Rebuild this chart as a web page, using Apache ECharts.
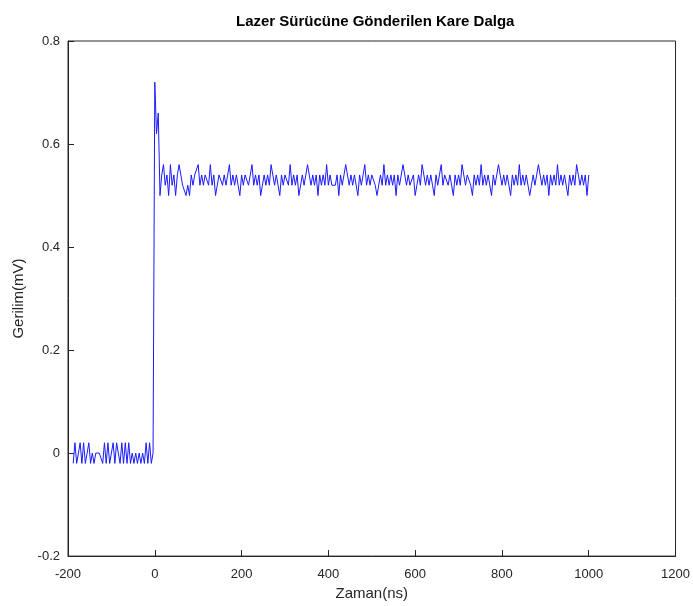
<!DOCTYPE html>
<html>
<head>
<meta charset="utf-8">
<script src="https://cdn.jsdelivr.net/npm/echarts@6/dist/echarts.min.js"></script>
<style>
html,body{margin:0;padding:0;background:#fff;}
#chart{width:693px;height:606px;}
</style>
</head>
<body>
<div id="chart"></div>
<script>
// Chart text
const titleText = 'Lazer Sürücüne Gönderilen Kare Dalga';
const xName = 'Zaman(ns)';
const yName = 'Gerilim(mV)';

// Axis ranges / ticks
const xMin = -200, xMax = 1200, xStep = 200;
const yMin = -0.2, yMax = 0.8, yStep = 0.2;

// Sampling grid (ns)
const startNs = -188;
const stepNs = 4;

// Voltage samples (mV)
const preValues = [
  -0.02,0.02,-0.02,0,0.02,-0.02,0.02,-0.02,0,0.02,
  -0.02,0,-0.02,0,0,0,0,-0.02,0.02,-0.02,
  0.02,-0.02,0,0.02,-0.02,0.02,0,-0.02,0.02,-0.02,
  0.02,-0.02,0.02,-0.02,0,-0.02,0,-0.02,0,-0.02,
  0,-0.02,0.02,-0.02,0.02,-0.02
];
const edgeValues = [0.00, 0.72, 0.62, 0.66];
const postValues = [
  0.50,0.54,0.56,0.52,0.54,0.50,0.56,0.52,0.54,0.50,
  0.54,0.56,0.54,0.52,0.52,0.50,0.52,0.50,0.54,0.52,
  0.54,0.54,0.56,0.52,0.54,0.52,0.54,0.54,0.52,0.56,
  0.52,0.54,0.50,0.52,0.54,0.54,0.52,0.54,0.52,0.54,
  0.56,0.52,0.54,0.52,0.54,0.52,0.50,0.54,0.52,0.54,
  0.54,0.52,0.54,0.56,0.52,0.54,0.52,0.54,0.50,0.52,
  0.54,0.52,0.54,0.52,0.56,0.54,0.52,0.54,0.52,0.50,
  0.54,0.52,0.54,0.54,0.52,0.56,0.52,0.54,0.52,0.54,
  0.50,0.52,0.54,0.52,0.54,0.56,0.54,0.52,0.54,0.52,
  0.54,0.50,0.54,0.52,0.54,0.52,0.56,0.52,0.54,0.52,
  0.52,0.52,0.54,0.50,0.54,0.52,0.54,0.56,0.54,0.52,
  0.54,0.52,0.54,0.52,0.50,0.54,0.52,0.54,0.56,0.52,
  0.54,0.52,0.54,0.54,0.52,0.50,0.52,0.54,0.52,0.56,
  0.52,0.54,0.52,0.54,0.52,0.54,0.50,0.54,0.52,0.54,
  0.56,0.54,0.52,0.54,0.52,0.52,0.54,0.50,0.52,0.54,
  0.52,0.56,0.54,0.52,0.54,0.52,0.54,0.52,0.50,0.54,
  0.52,0.54,0.56,0.52,0.54,0.54,0.52,0.54,0.52,0.50,
  0.54,0.52,0.54,0.52,0.56,0.54,0.52,0.54,0.54,0.52,
  0.50,0.54,0.52,0.54,0.52,0.56,0.52,0.54,0.52,0.54,
  0.52,0.50,0.54,0.52,0.54,0.56,0.54,0.52,0.54,0.52,
  0.54,0.52,0.50,0.54,0.52,0.54,0.52,0.56,0.52,0.54,
  0.52,0.54,0.52,0.50,0.52,0.54,0.52,0.54,0.56,0.54,
  0.52,0.54,0.52,0.54,0.50,0.54,0.52,0.54,0.52,0.56,
  0.52,0.54,0.52,0.54,0.52,0.50,0.54,0.52,0.54,0.52,
  0.56,0.54,0.52,0.54,0.52,0.54,0.50,0.54
];

const voltage = preValues.concat(edgeValues, postValues);
const seriesData = voltage.map((v, i) => [startNs + i * stepNs, v]);

const axisColor = '#262626';
const fontFam = '"Liberation Sans", Arial, sans-serif';

const chart = echarts.init(document.getElementById('chart'), null, {renderer: 'canvas'});
chart.setOption({
  animation: false,
  backgroundColor: '#ffffff',
  title: {
    text: titleText,
    left: 231, top: 9,
    textStyle: {fontFamily: fontFam, fontSize: 15, fontWeight: 'bold', color: '#000'}
  },
  grid: {
    left: 68, right: 13, top: 41, bottom: 49,
    show: true, borderColor: axisColor, borderWidth: 1, backgroundColor: 'transparent'
  },
  xAxis: {
    type: 'value', min: xMin, max: xMax, interval: xStep,
    name: xName, nameLocation: 'middle', nameGap: 29,
    nameTextStyle: {fontFamily: fontFam, fontSize: 15, color: '#262626'},
    axisLine: {show: true, onZero: false, lineStyle: {color: axisColor, width: 1}},
    axisTick: {show: true, inside: true, length: 6, lineStyle: {color: axisColor}},
    axisLabel: {fontFamily: fontFam, fontSize: 13, color: '#262626', margin: 12,
      formatter: v => String(v)},
    splitLine: {show: false}
  },
  yAxis: {
    type: 'value', min: yMin, max: yMax, interval: yStep,
    name: yName, nameLocation: 'middle', nameGap: 32,
    nameTextStyle: {fontFamily: fontFam, fontSize: 15, color: '#262626'},
    axisLine: {show: true, onZero: false, lineStyle: {color: axisColor, width: 1}},
    axisTick: {show: true, inside: true, length: 6, lineStyle: {color: axisColor}},
    axisLabel: {fontFamily: fontFam, fontSize: 13, color: '#262626', margin: 8,
      formatter: v => String(Math.round(v * 10) / 10)},
    splitLine: {show: false}
  },
  series: [{
    type: 'line',
    data: seriesData,
    showSymbol: false,
    lineStyle: {color: '#1a1aff', width: 1},
    itemStyle: {color: '#1a1aff'}
  }]
});
</script>
</body>
</html>
